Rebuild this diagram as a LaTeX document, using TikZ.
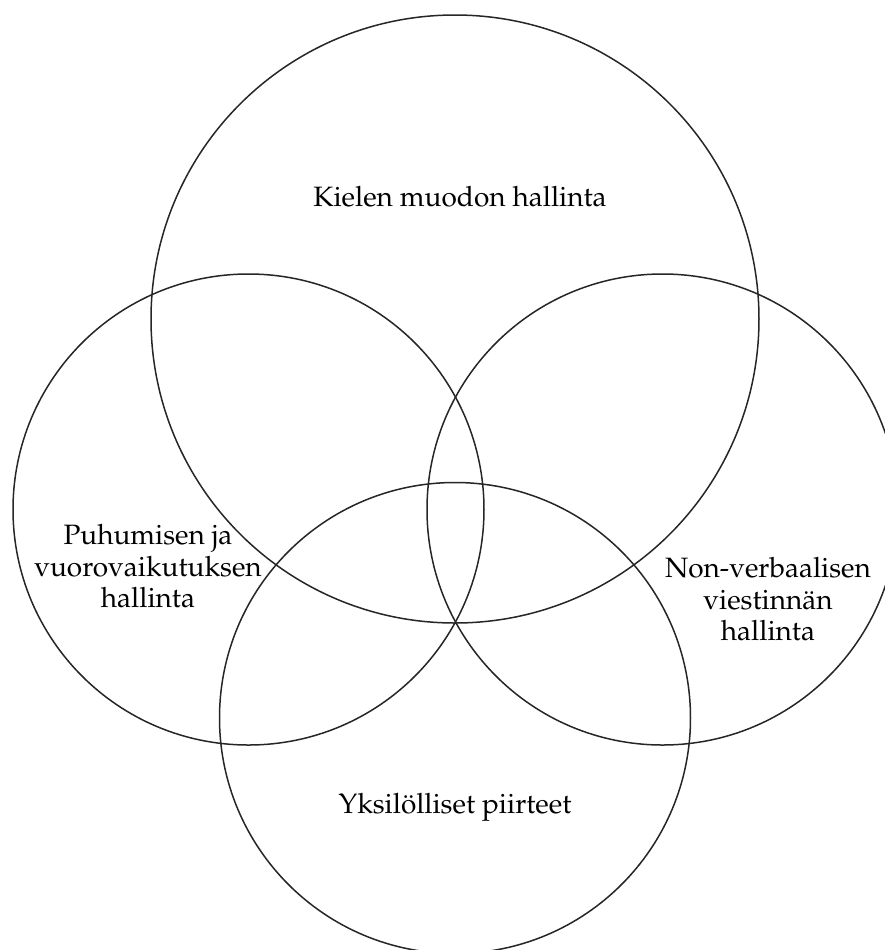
\documentclass[tikz,border=0pt]{standalone}
\usepackage[T1]{fontenc}
\renewcommand{\rmdefault}{ppl}
\usepackage{tikz}
\usetikzlibrary{positioning}

\begin{document}
\begin{tikzpicture}[
            x=0.5pt, y=-0.5pt,
            ring/.style={draw=black!85, line width=0.75pt},
            label/.style={font=\fontsize{14}{15.6}\selectfont, align=center, inner sep=0pt}
        ]
        \useasboundingbox (0,0) rectangle (885,950);

        % Circle centres
        \coordinate (ctop) at (455, 319);
        \coordinate (cleft) at (248.5, 509.5);
        \coordinate (cright) at (662.5, 509.5);
        \coordinate (cbottom) at (455, 718);

        % The four circles
        \draw[ring] (ctop) circle[radius=152pt];
        \draw[ring] (cleft) circle[radius=117.75pt];
        \draw[ring] (cright) circle[radius=117.75pt];
        \draw[ring] (cbottom) circle[radius=117.75pt];

        % Labels
        \node[label, anchor=base] (kieli) at (460, 206) {Kielen muodon hallinta};
        \node[label] (puhe) at (148, 566) {Puhumisen ja\\vuorovaikutuksen\\hallinta};
        \node[label] (nonverb) at (768, 599) {Non-verbaalisen\\viestinn\"an\\hallinta};
        \node[label, anchor=base] (yksilo) at (455, 813) {Yksil\"olliset piirteet};

        \end{tikzpicture}
\end{document}
